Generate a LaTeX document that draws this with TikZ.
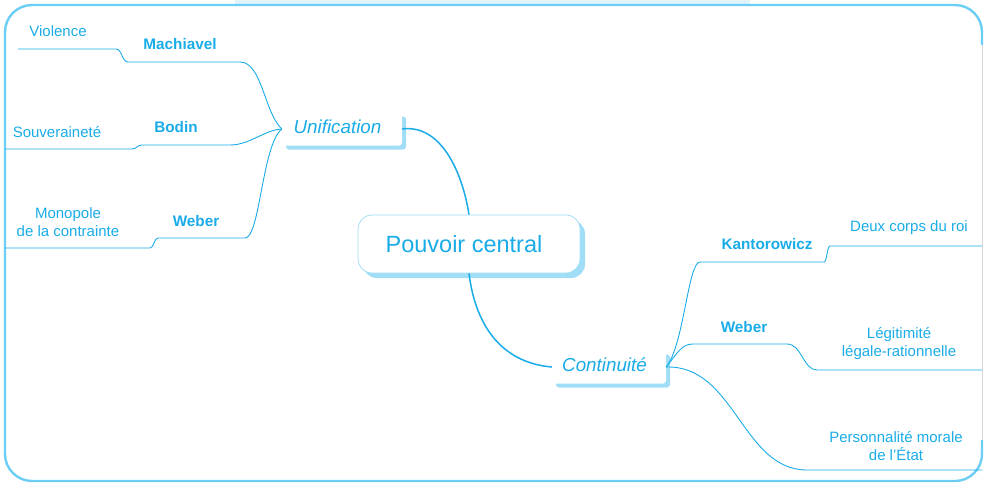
\documentclass[tikz,border=0pt]{standalone}
\usepackage{fontspec}
\setmainfont{Liberation Sans}
\usetikzlibrary{shadows}

\definecolor{mapblue}{RGB}{25,172,232}
\definecolor{frameblue}{RGB}{108,206,245}
\definecolor{shadeblue}{RGB}{160,221,247}
\definecolor{bandblue}{RGB}{226,244,251}

\tikzset{
  branch/.style={draw=mapblue, line width=0.9pt},
  trunk/.style={draw=mapblue, line width=1.5pt},
  author/.style={text=mapblue, inner sep=0pt, font=\bfseries\fontsize{15.3}{18}\selectfont},
  idea/.style={text=mapblue, inner sep=0pt, align=center, font=\fontsize{15}{18}\selectfont},
  theme/.style={text=mapblue, fill=white, inner sep=0pt, minimum height=33pt,
    text height=13pt, text depth=4.2pt,
    rounded corners=3pt, font=\itshape\fontsize{18.8}{20}\selectfont,
    execute at begin node={\hspace*{-9pt}},
    drop shadow={shadow xshift=4pt, shadow yshift=-4pt, fill=shadeblue, opacity=1}},
  centre/.style={text=mapblue, fill=white, draw=shadeblue, line width=0.8pt,
    rounded corners=14pt, minimum width=222pt, minimum height=58pt,
    font=\fontsize{23.5}{25}\selectfont,
    execute at begin node={\hspace*{-10pt}},
    drop shadow={shadow xshift=5pt, shadow yshift=-5pt, fill=shadeblue, opacity=1}},
}

\begin{document}
\begin{tikzpicture}[x=1pt, y=-1pt]
  \useasboundingbox (0,0) rectangle (984,483);

% frame
  \fill[bandblue] (235,0) rectangle (750,4);
  \draw[frameblue, line width=2.4pt, rounded corners=27pt]
    (982,45) -- (982,5) -- (5,5) -- (5,481) -- (982,481) -- (982,440);
  \draw[gray!30, line width=0.6pt] (982,45) -- (982,440);

% main nodes
  \node[centre] (pc) at (469,244) {Pouvoir central};
  \node[theme, minimum width=120pt] (unif) at (342,129) {Unification};
  \node[theme, minimum width=114pt] (cont) at (609,367) {Continuit\'e};

  \draw[trunk] (unif.east) .. controls (440,124) and (462,170) .. (pc.north);
  \draw[trunk] (pc.south) .. controls (476,330) and (505,363) .. (cont.west);

% left side: Unification
  \coordinate (violend) at (18,49);
  \coordinate (souvend) at (5,149);
  \coordinate (monoend) at (5,248);

  \draw[branch] (unif.west) .. controls (264,112) and (262,62) .. (240,62)
    -- (128,62) .. controls (122,62) and (122,49) .. (116,49) -- (violend);
  \draw[branch] (unif.west) .. controls (264,130) and (250,145) .. (230,145)
    -- (142,145) .. controls (137,145) and (137,149) .. (132,149) -- (souvend);
  \draw[branch] (unif.west) .. controls (262,145) and (260,238) .. (245,238)
    -- (158,238) .. controls (154,238) and (154,248) .. (150,248) -- (monoend);

  \node[author] (machia) at (180,44) {Machiavel};
  \node[author] (bodin) at (176,127) {Bodin};
  \node[author] (weberg) at (196,221) {Weber};
  \node[idea] (viol) at (58,31) {Violence};
  \node[idea] (souv) at (57,132) {Souveraineté};
  \node[idea] (mono) at (68,222) {Monopole\\de la contrainte};

% right side: Continuite
  \coordinate (corpsend) at (982,246);
  \coordinate (legiend) at (982,370);
  \coordinate (persend) at (982,470);

  \draw[branch] (cont.east) .. controls (684,345) and (688,262) .. (700,262)
    -- (824,262) .. controls (827,262) and (827,246) .. (830,246) -- (corpsend);
  \draw[branch] (cont.east) .. controls (678,352) and (682,344) .. (693,344)
    -- (787,344) .. controls (802,344) and (803,370) .. (817,370) -- (legiend);
  \draw[branch] (cont.east) .. controls (735,365) and (742,470) .. (807,470)
    -- (persend);

  \node[author] (kanto) at (767,244) {Kantorowicz};
  \node[author] (weberd) at (744,327) {Weber};
  \node[idea] (corps) at (909,228) {Deux corps du roi};
  \node[idea] (legi) at (899,344) {Légitimité\\légale-rationnelle};
  \node[idea] (pers) at (896,446) {Personnalité morale\\de l'État};
\end{tikzpicture}
\end{document}
